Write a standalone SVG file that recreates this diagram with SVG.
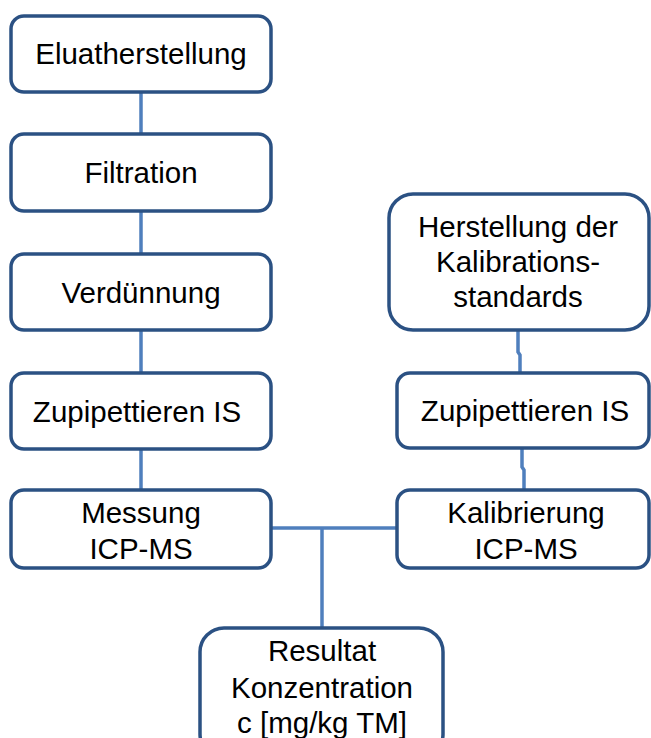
<svg xmlns="http://www.w3.org/2000/svg" width="651" height="738" viewBox="0 0 651 738">
  <style>
    .box { fill: #ffffff; stroke: #2b5183; stroke-width: 3.5; }
    .lbl { font-family: "Liberation Sans", Arial, sans-serif; font-size: 29.5px; fill: #000000; text-anchor: middle; }
    .link { fill: none; stroke: #4f7fbd; stroke-width: 3.5; }
  </style>
  <rect width="651" height="738" fill="#ffffff"/>

  <!-- connectors -->
  <g id="connectors">
    <line class="link" x1="141" y1="92" x2="141" y2="134"/>
    <line class="link" x1="141" y1="211" x2="141" y2="254"/>
    <line class="link" x1="141" y1="330" x2="141" y2="373"/>
    <line class="link" x1="141" y1="449" x2="141" y2="490"/>
    <path class="link" d="M518,330 L518,352 L520,355 L520,373"/>
    <path class="link" d="M522,448 L522,467 L524,470 L524,490"/>
    <line class="link" x1="270" y1="528" x2="398" y2="528"/>
    <line class="link" x1="322" y1="528" x2="322" y2="628"/>
  </g>

  <!-- left column -->
  <g id="eluat">
    <rect class="box" x="11" y="16" width="260" height="76" rx="13"/>
    <text class="lbl" x="141" y="64">Eluatherstellung</text>
  </g>
  <g id="filtration">
    <rect class="box" x="11" y="134" width="260" height="77" rx="13"/>
    <text class="lbl" x="141" y="183">Filtration</text>
  </g>
  <g id="verduennung">
    <rect class="box" x="11" y="254" width="260" height="76" rx="13"/>
    <text class="lbl" x="141" y="303">Verdünnung</text>
  </g>
  <g id="zupipettieren-probe">
    <rect class="box" x="11" y="373" width="260" height="76" rx="13"/>
    <text class="lbl" x="137" y="422">Zupipettieren IS</text>
  </g>
  <g id="messung">
    <rect class="box" x="11" y="490" width="260" height="78" rx="13"/>
    <text class="lbl" x="141" y="523">Messung</text>
    <text class="lbl" x="141" y="559">ICP-MS</text>
  </g>

  <!-- right column -->
  <g id="kalibrationsstandards">
    <rect class="box" x="389" y="194" width="260" height="136" rx="24"/>
    <text class="lbl" x="518" y="237">Herstellung der</text>
    <text class="lbl" x="518" y="272">Kalibrations-</text>
    <text class="lbl" x="518" y="307">standards</text>
  </g>
  <g id="zupipettieren-standard">
    <rect class="box" x="397" y="373" width="252" height="75" rx="13"/>
    <text class="lbl" x="525" y="421">Zupipettieren IS</text>
  </g>
  <g id="kalibrierung">
    <rect class="box" x="397" y="490" width="252" height="78" rx="13"/>
    <text class="lbl" x="526" y="523">Kalibrierung</text>
    <text class="lbl" x="526" y="559">ICP-MS</text>
  </g>

  <!-- result -->
  <g id="resultat">
    <rect class="box" x="200" y="628" width="243" height="130" rx="24"/>
    <text class="lbl" x="322" y="661">Resultat</text>
    <text class="lbl" x="322" y="698">Konzentration</text>
    <text class="lbl" x="322" y="733">c [mg/kg TM]</text>
  </g>
</svg>
